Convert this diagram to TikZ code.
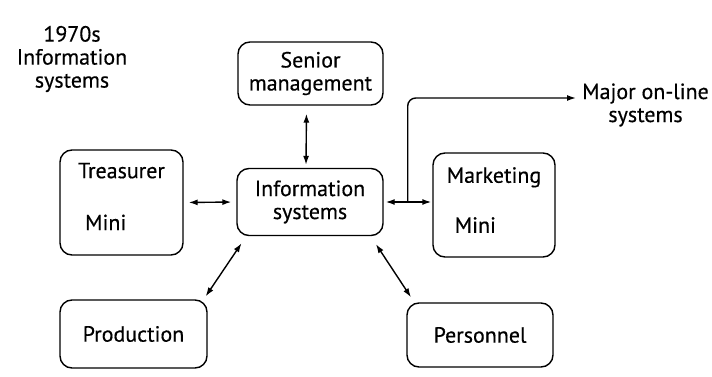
\documentclass[tikz,border=0pt]{standalone}
\usepackage{fontspec}
\setmainfont{PT Sans}[FakeBold=0.4]
\usetikzlibrary{arrows.meta}
\begin{document}
\begin{tikzpicture}[x=1pt,y=-1pt,font=\fontsize{22}{23}\selectfont,
	box/.style={draw,line width=1.4pt,rounded corners=12pt,align=center,inner sep=0pt},
	link/.style={{Latex[length=9pt,width=6pt]}-{Latex[length=9pt,width=6pt]},line width=1.4pt}]
	\useasboundingbox[fill=white] (0,0) rectangle (712,377);
	\node[align=center] (title) at (72,59) {1970s\\Information\\systems};
	\node[box,minimum width=145pt,minimum height=63pt] (senior) at (310.5,73.5) {Senior\\management};
	\node[box,minimum width=146pt,minimum height=67pt] (info) at (310,202) {Information\\systems};
	\node[box,minimum width=123pt,minimum height=105pt,align=left,text depth=12pt] (treas) at (121.5,202.5) {Treasurer\\[29pt]\hspace{7pt}Mini};
	\node[box,minimum width=122pt,minimum height=104pt,align=left,text depth=10pt] (market) at (494,205) {Marketing\\[27pt]\hspace{8pt}Mini};
	\node[box,minimum width=147pt,minimum height=68pt] (prod) at (133.5,334) {Production};
	\node[box,minimum width=146pt,minimum height=64pt] (pers) at (480,335) {Personnel};
	\node[align=center,anchor=west,inner sep=3pt] (online) at (579,105) {Major on-line\\systems};
	% links to the centre box
	\draw[link,shorten <=8pt,shorten >=3pt] ([xshift=-4pt]senior.south) -- ([xshift=-4pt]info.north);
	\draw[link,shorten <=5pt,shorten >=5pt] (treas.east) -- (info.west);
	\draw[link,shorten <=2pt,shorten >=1pt] (info.east) -- (info.east -| market.west);
	\draw[link,shorten <=3.5pt,shorten >=8.5pt] ([xshift=-4pt]prod.north east) -- ([xshift=10pt]info.south west);
	\draw[link,shorten <=9.5pt,shorten >=6pt] ([xshift=-13pt]info.south east) -- ([xshift=8pt]pers.north west);
	% branch off to the on-line systems
	\coordinate (split) at ([xshift=24pt]info.east);
	\draw[-{Latex[length=9pt,width=6pt]},line width=1.4pt,rounded corners=8pt,shorten >=3pt] (split) |- ([yshift=7pt]online.west);
\end{tikzpicture}
\end{document}
